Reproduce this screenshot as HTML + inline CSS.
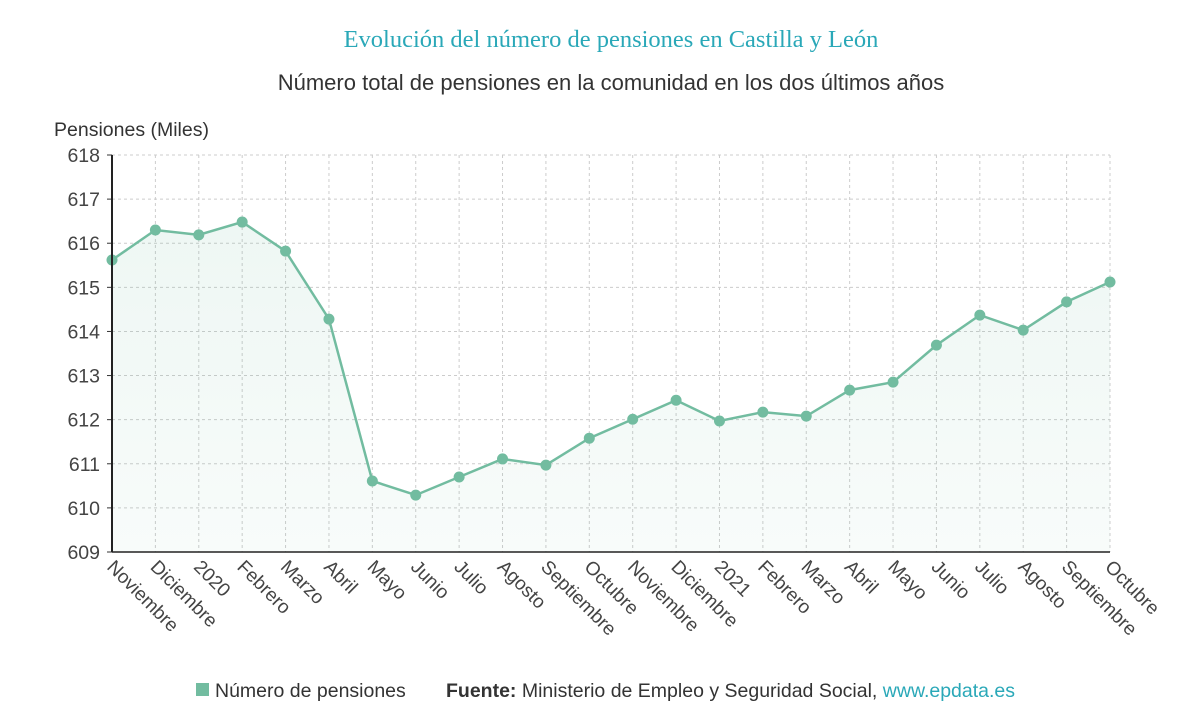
<!DOCTYPE html>
<html><head><meta charset="utf-8"><style>
body{margin:0;background:#fff;width:1200px;height:715px;overflow:hidden;font-family:"Liberation Sans",sans-serif}
</style></head><body>
<svg width="1200" height="715" id="c">
<text x="611" y="47" text-anchor="middle" font-family="Liberation Serif,serif" font-size="24.5" fill="#2aa8b8">Evolución del número de pensiones en Castilla y León</text>
<text x="611" y="90" text-anchor="middle" font-size="22" fill="#333">Número total de pensiones en la comunidad en los dos últimos años</text>
<text x="54" y="136" font-size="19.5" fill="#333">Pensiones (Miles)</text>
<g id="grid"></g><g id="plot"></g><g id="axes"></g>
<rect x="196" y="683" width="13" height="13" fill="#72bca0"/>
<text x="215" y="697" font-size="19.5" fill="#333">Número de pensiones</text>
<text x="446" y="697" font-size="19.5" fill="#333"><tspan font-weight="bold">Fuente:</tspan> Ministerio de Empleo y Seguridad Social, <tspan fill="#2aa8b8">www.epdata.es</tspan></text>
</svg>
<script>
const categories=["Noviembre","Diciembre","2020","Febrero","Marzo","Abril","Mayo","Junio","Julio","Agosto","Septiembre","Octubre","Noviembre","Diciembre","2021","Febrero","Marzo","Abril","Mayo","Junio","Julio","Agosto","Septiembre","Octubre"];
const values=[615.62,616.30,616.19,616.48,615.82,614.28,610.61,610.29,610.70,611.11,610.97,611.58,612.01,612.44,611.97,612.17,612.08,612.67,612.85,613.69,614.37,614.03,614.67,615.12];
const yTicks=[609,610,611,612,613,614,615,616,617,618];
const NS="http://www.w3.org/2000/svg";
const x0=112,x1=1110,yTop=155,yBot=552,yMin=609,yMax=618;
const X=i=>x0+i*(x1-x0)/(categories.length-1);
const Y=v=>yBot-(v-yMin)/(yMax-yMin)*(yBot-yTop);
function mk(t,a,p){const e=document.createElementNS(NS,t);for(const k in a)e.setAttribute(k,a[k]);p.appendChild(e);return e;}
const grid=document.getElementById('grid'),plot=document.getElementById('plot'),axes=document.getElementById('axes');
yTicks.forEach(v=>{
 const l=mk('line',{x1:x0,x2:x1,y1:Y(v),y2:Y(v),stroke:'#ccc','stroke-dasharray':'3,3'},grid);
 
 
 const t=mk('text',{x:x0-12,y:Y(v)+7,'text-anchor':'end','font-size':19.5,fill:'#444'},axes);
 t.textContent=v;
 
 
 mk('line',{x1:x0-5,x2:x0,y1:Y(v),y2:Y(v),stroke:'#333'},axes);
});
categories.forEach((c,i)=>{
 const l=mk('line',{x1:X(i),x2:X(i),y1:yTop,y2:yBot,stroke:'#ccc','stroke-dasharray':'3,3'},grid);
 
 
 const t=mk('text',{x:X(i)-6,y:yBot+16,'font-size':19,fill:'#444',transform:`rotate(45 ${X(i)-6} ${yBot+16})`},axes);
 t.textContent=c;
 
 
});
const defs=mk('defs',{},plot);
const g=mk('linearGradient',{id:'gr',x1:0,y1:0,x2:0,y2:1},defs);
mk('stop',{offset:0,'stop-color':'#72bca0','stop-opacity':0.12},g);
mk('stop',{offset:1,'stop-color':'#72bca0','stop-opacity':0.05},g);
let pts=values.map((v,i)=>X(i)+','+Y(v)).join(' ');
const area=mk('polygon',{points:`${X(0)},${yBot} ${pts} ${X(values.length-1)},${yBot}`,fill:'url(#gr)'},plot);


const line=mk('polyline',{points:pts,fill:'none',stroke:'#72bca0','stroke-width':2.5},plot);


values.forEach((v,i)=>{
 const c=mk('circle',{cx:X(i),cy:Y(v),r:5.5,fill:'#72bca0'},plot);
 
 
});
const ax=mk('line',{x1:x0,x2:x0,y1:yTop,y2:yBot,stroke:'#222','stroke-width':2},axes);


const bx=mk('line',{x1:x0,x2:x1,y1:yBot,y2:yBot,stroke:'#222','stroke-width':1.5},axes);


</script>
</body></html>
